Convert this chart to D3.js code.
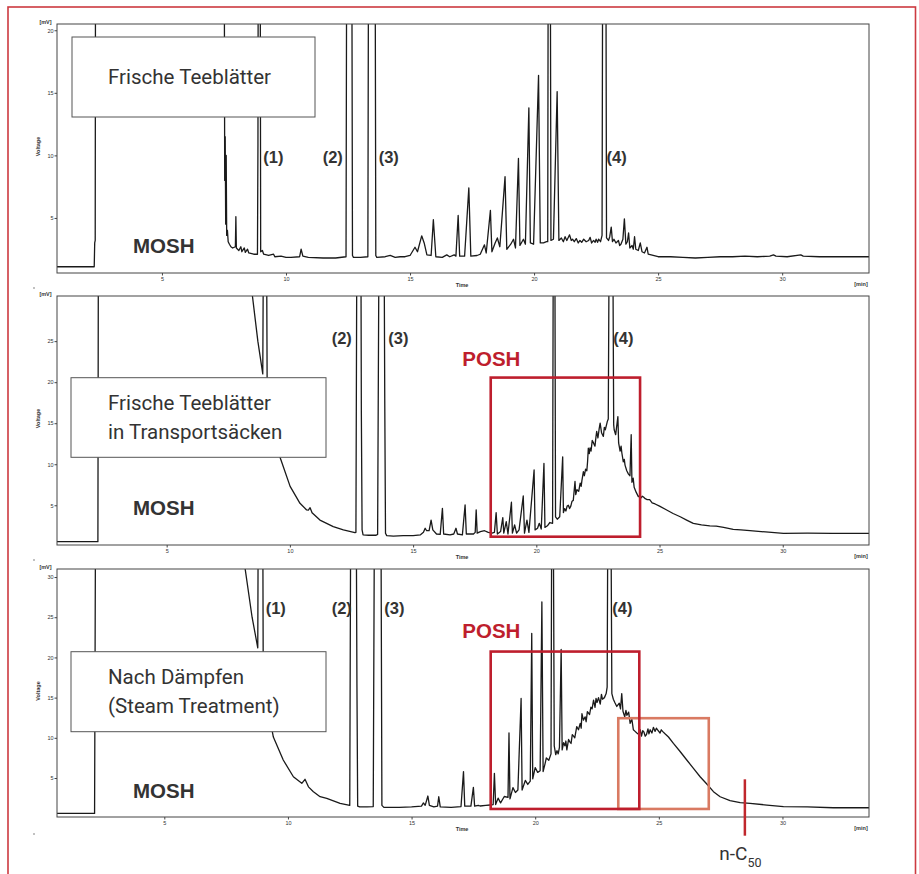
<!DOCTYPE html>
<html>
<head>
<meta charset="utf-8">
<script src="https://cdn.jsdelivr.net/npm/d3@7"></script>
<style>
  body { margin: 0; background: #fff; }
  svg { display: block; }
</style>
</head>
<body>
<svg id="chart" width="919" height="874"></svg>
<script>
// GC-FID traces, [retention time (min), signal (mV)]; values above the
// scale are off-scale peaks and get clipped at the top of the plot.
const traceFresh = [
  [0.77,1.1],[2.27,1.1],[2.29,3.0],[2.31,3.2],[2.33,40],
  [7.50,40],[7.53,8.0],[7.55,11.5],[7.57,4.5],[7.59,10.0],[7.61,3.6],[7.64,4.0],[7.67,3.1],[7.72,2.9],
  [7.78,2.7],[7.85,2.6],[7.96,2.7],[7.98,5.1],[8.00,2.6],[8.10,2.4],[8.18,2.7],[8.22,2.3],[8.32,2.6],
  [8.36,2.25],[8.45,2.5],[8.50,2.2],[8.70,2.1],
  [8.85,2.1],[8.87,10.9],[8.89,40],[8.95,40],[8.98,2.3],
  [9.05,2.4],[9.10,2.1],[9.30,2.0],[9.50,2.1],[9.55,1.9],[9.80,1.95],[10.0,1.85],[10.2,1.85],[10.55,1.9],
  [10.61,2.5],[10.68,1.95],[10.9,1.85],[11.5,1.8],[12.0,1.8],
  [12.42,1.9],[12.46,40],[12.64,40],[12.68,2.0],[12.72,1.85],[13.0,1.85],
  [13.30,1.9],[13.34,40],[13.58,40],[13.62,2.0],[13.66,1.85],
  [14.0,1.9],[14.2,2.0],[14.4,1.85],[14.6,1.9],[14.8,1.9],[15.0,2.0],[15.2,2.66],[15.3,2.3],[15.47,3.57],
  [15.57,3.0],[15.68,2.05],[15.85,2.0],[15.94,4.86],[16.04,1.9],[16.3,1.85],[16.48,2.05],[16.6,1.9],
  [16.78,2.05],[16.85,1.95],[16.94,5.2],[17.0,1.95],[17.2,1.95],[17.37,7.4],[17.45,1.95],[17.7,2.0],
  [17.83,2.1],[18.0,2.85],[18.07,2.2],[18.24,5.6],[18.3,2.3],[18.43,3.0],[18.52,3.4],[18.62,2.7],
  [18.83,8.3],[18.9,2.5],[19.06,2.9],[19.17,3.3],[19.25,2.6],[19.37,9.75],[19.43,2.8],[19.57,3.3],
  [19.65,2.9],[19.79,13.8],[19.85,3.0],[19.98,2.9],[20.18,16.4],[20.25,3.0],[20.38,3.0],[20.5,3.1],
  [20.55,3.1],[20.58,40],[20.64,40],[20.68,3.2],[20.78,3.3],[20.93,15.1],[21.0,3.2],[21.1,3.4],
  [21.18,3.1],[21.25,3.5],[21.32,3.2],[21.43,3.65],[21.5,3.2],[21.55,3.3],[21.62,3.1],[21.7,3.35],
  [21.78,3.0],[21.85,3.2],[21.92,3.05],[22.0,3.3],[22.1,3.1],[22.2,3.2],[22.26,3.45],[22.32,3.0],
  [22.4,3.2],[22.46,3.05],[22.5,3.3],[22.56,3.05],[22.6,3.3],[22.68,3.1],[22.74,3.6],[22.78,40],
  [22.88,40],[22.92,3.4],[23.0,3.2],[23.05,3.5],
  [23.11,4.27],[23.16,3.1],[23.22,3.3],[23.3,3.0],[23.4,3.2],[23.45,2.8],[23.5,2.9],[23.58,3.3],
  [23.64,4.93],[23.7,2.9],[23.76,3.1],[23.81,3.8],[23.86,2.6],[23.95,2.8],[24.0,2.5],[24.05,3.5],
  [24.1,2.5],[24.2,2.4],[24.28,3.0],[24.35,2.3],[24.45,2.2],[24.55,2.66],[24.6,2.1],
  [24.8,2.0],[25.0,1.9],[25.5,1.9],[26.0,1.85],[26.5,1.8],[27.0,1.85],[27.5,1.9],[28.0,1.9],
  [28.5,1.95],[29.0,1.9],[29.5,1.95],[29.65,2.05],[29.75,1.95],[30.2,1.9],[30.75,2.05],[30.85,1.95],
  [31.5,1.9],[32.5,1.9],[33.5,1.9]
];

const traceSacks = [
  [0.55,0.56],[2.21,0.56],[2.23,40],[8.30,40],[8.48,30.5],[8.70,25.0],[8.90,21.0],
  [8.93,40],[9.05,40],[9.08,18.0],[9.30,14.5],[9.60,10.85],[10.01,7.3],[10.41,5.24],[10.68,4.43],
  [10.75,4.4],[10.82,4.7],[10.9,4.1],[11.22,3.2],[11.76,2.4],[12.17,2.0],[12.64,1.66],
  [12.68,1.7],[12.72,40],[12.88,40],[12.90,16.4],[12.93,2.0],[12.97,1.4],[13.2,1.35],[13.5,1.35],
  [13.56,1.45],[13.62,40],[13.82,40],[13.85,17.8],[13.88,1.6],[13.93,1.3],
  [14.2,1.25],[14.6,1.3],[15.0,1.3],[15.3,1.4],[15.42,1.7],[15.49,2.2],[15.55,1.9],[15.65,1.9],
  [15.73,3.2],[15.8,2.0],[15.95,1.5],[16.1,1.45],[16.19,4.63],[16.24,1.5],[16.5,1.4],[16.65,1.5],
  [16.74,2.2],[16.8,1.5],[17.0,1.4],[17.11,5.04],[17.16,1.5],[17.3,1.5],[17.45,1.5],[17.52,1.7],
  [17.56,4.45],[17.6,1.6],[17.73,1.78],[17.9,1.9],[18.05,1.7],[18.2,1.6],[18.3,1.7],[18.37,4.1],
  [18.42,1.5],[18.55,1.8],[18.64,3.5],[18.68,1.6],[18.78,3.0],[18.85,1.5],[18.99,5.37],[19.03,1.6],
  [19.12,2.6],[19.2,1.6],[19.3,2.0],[19.47,6.13],[19.52,1.6],[19.62,3.2],[19.7,1.7],[19.91,9.3],
  [19.95,2.0],[20.05,2.2],[20.12,2.8],[20.2,2.1],[20.31,10.1],[20.35,2.3],[20.45,2.5],[20.55,2.9],
  [20.66,2.8],[20.69,40],[20.75,40],[20.78,3.6],[20.85,3.3],[20.95,3.6],[21.07,10.9],[21.1,4.1],
  [21.15,4.6],[21.2,4.3],[21.25,4.9],[21.3,5.0],[21.35,4.6],[21.4,4.9],[21.45,5.5],[21.5,5.6],
  [21.57,7.9],[21.6,6.3],[21.65,6.9],[21.72,6.7],[21.78,7.7],[21.82,7.3],[21.85,8.0],[21.91,9.1],
  [21.95,8.6],[22.0,9.4],[22.05,9.2],[22.08,10.3],[22.11,11.95],[22.15,11.3],[22.18,12.0],
  [22.22,11.6],[22.27,12.9],[22.32,12.6],[22.38,12.2],[22.42,13.3],[22.45,14.0],[22.5,13.2],
  [22.55,14.3],[22.59,15.0],[22.65,13.8],[22.72,13.4],[22.76,14.5],[22.8,14.2],[22.88,15.2],
  [22.92,15.5],[22.96,40],[23.1,40],[23.14,14.8],[23.16,14.2],
  [23.22,13.6],[23.31,15.8],[23.34,12.6],[23.4,11.6],[23.44,12.2],[23.47,11.4],[23.53,10.3],
  [23.57,10.6],[23.6,9.9],[23.67,9.2],[23.74,8.8],[23.8,8.6],[23.85,13.6],[23.88,7.8],[23.93,8.3],
  [23.97,7.2],[24.05,6.6],[24.14,6.05],[24.2,6.2],[24.25,5.9],[24.3,6.1],[24.35,6.0],[24.42,5.8],
  [24.5,5.7],[24.6,5.7],[24.7,5.3],[24.82,5.16],[25.0,4.9],
  [25.29,4.43],[25.55,4.0],[25.84,3.6],[26.1,3.2],[26.37,2.8],[26.7,2.6],[27.04,2.48],[27.3,2.45],
  [27.6,2.3],[27.99,2.07],[28.3,2.0],[28.67,1.9],[29.3,1.75],[30.03,1.58],[31.0,1.6],[32.0,1.58],
  [33.5,1.58]
];

const traceSteamed = [
  [0.66,0.6],[2.18,0.6],[2.22,40],[8.10,40],[8.27,31.0],[8.55,25.0],[8.78,21.2],
  [8.80,40],[8.98,40],[9.00,18.5],[9.20,13.5],[9.41,10.1],[9.81,7.24],[10.22,5.16],[10.56,4.34],
  [10.69,4.84],[10.83,3.9],[11.03,3.3],[11.3,2.67],[11.57,2.47],[12.11,1.85],[12.5,1.6],
  [12.54,40],[12.76,40],[12.79,16.8],[12.82,1.5],[12.9,1.4],[13.2,1.4],[13.45,1.45],
  [13.50,40],[13.76,40],[13.80,1.6],[13.88,1.35],[14.5,1.35],[15.0,1.4],[15.4,1.5],[15.48,1.9],
  [15.55,1.6],[15.66,2.76],[15.72,1.6],[15.9,1.4],[16.05,1.5],[16.1,2.67],[16.16,1.4],[16.6,1.35],
  [17.0,1.45],[17.1,5.8],[17.15,1.5],[17.4,1.5],[17.5,3.84],[17.55,1.5],[17.7,1.6],[17.77,1.52],
  [18.0,1.6],[18.18,1.64],[18.3,1.7],[18.35,5.58],[18.4,1.7],[18.5,2.5],[18.6,1.9],[18.75,2.7],
  [18.9,2.6],[18.94,10.6],[18.98,2.4],[19.1,3.8],[19.2,3.2],[19.3,3.5],[19.43,14.9],[19.47,3.5],
  [19.6,4.7],[19.7,4.2],[19.8,4.6],[19.86,23.0],[19.9,4.9],[20.0,6.3],[20.1,5.7],[20.2,5.9],
  [20.27,26.9],[20.32,5.8],[20.4,6.8],[20.45,7.5],[20.55,7.2],[20.64,8.0],[20.67,40],[20.73,40],
  [20.77,9.0],[20.83,7.9],[20.88,8.4],[20.93,8.0],[20.98,8.8],[21.05,21.0],[21.09,8.5],[21.15,9.4],
  [21.2,9.0],[21.24,9.6],[21.28,8.5],[21.35,9.8],[21.4,9.5],[21.45,9.3],[21.5,10.4],[21.55,10.2],
  [21.6,10.0],[21.68,11.4],[21.75,11.0],[21.82,11.8],[21.86,11.2],[21.89,13.0],[21.95,12.2],
  [22.02,12.6],[22.06,12.0],[22.11,13.25],[22.2,12.9],[22.25,13.8],[22.3,13.6],[22.36,14.7],
  [22.42,13.8],[22.46,14.9],[22.5,14.4],[22.56,15.0],[22.63,14.2],[22.68,15.4],[22.72,14.8],
  [22.8,15.0],[22.87,15.5],[22.91,16.3],[22.94,40],[23.06,40],[23.1,15.5],
  [23.16,14.8],[23.22,14.4],[23.3,13.9],[23.4,14.3],[23.45,13.6],[23.5,15.5],[23.55,13.3],
  [23.62,12.6],[23.67,13.4],[23.71,12.8],[23.78,13.2],[23.84,11.8],[23.91,12.3],[23.97,11.0],
  [24.04,10.8],[24.11,10.6],[24.2,10.4],[24.25,11.0],[24.3,10.2],[24.35,10.9],[24.4,10.7],
  [24.45,10.2],[24.5,10.4],[24.56,11.1],[24.6,10.5],[24.65,11.0],[24.72,10.6],[24.78,11.3],
  [24.85,10.8],[24.9,11.2],[24.95,11.0],[25.05,10.6],[25.1,11.0],[25.15,10.8],
  [25.25,10.5],[25.39,10.1],[25.59,9.3],[25.86,8.3],[26.13,7.24],[26.4,6.2],[26.67,5.16],
  [26.94,4.25],[27.21,3.3],[27.48,2.67],[27.88,2.18],[28.29,1.93],[28.69,1.85],[29.37,1.64],
  [30.04,1.43],[31.0,1.4],[32.06,1.3],[33.5,1.3]
];

// Axis ticks
const timeTicks = [5, 10, 15, 20, 25, 30];
const voltTicksFresh = [5, 10, 15, 20];
const voltTicksSacks = [5, 10, 15, 20, 25];
const voltTicksSteamed = [5, 10, 15, 20, 25, 30];

// Sample descriptions
const sampleFresh = ["Frische Teeblätter"];
const sampleSacks = ["Frische Teeblätter", "in Transportsäcken"];
const sampleSteamed = ["Nach Dämpfen", "(Steam Treatment)"];

// Peak markers (internal standards) per run
const peaksFresh = ["(1)", "(2)", "(3)", "(4)"];
const peaksSacks = ["(2)", "(3)", "(4)"];
const peaksSteamed = ["(1)", "(2)", "(3)", "(4)"];

// Highlighted windows [t0, t1, v0, v1]
const poshSacks = [18.15, 24.21, 1.17, 20.56];
const poshSteamed = [18.2, 24.21, 1.15, 20.73];
const humpSteamed = [23.36, 27.02, 1.15, 12.44];
const nC50Time = 28.48;

const svg = d3.select("#chart");
const DARK = "#333";
const RED = "#be1e2d";

// outer border
svg.append("rect")
  .attr("x", 8).attr("y", 7).attr("width", 907.5).attr("height", 900)
  .attr("fill", "none").attr("stroke", "#cc3a40").attr("stroke-width", 1.6);

const panels = [
  { trace: traceFresh, xDom: [0.77, 33.5], yDom: [0.6, 20.5], top: 24, bottom: 273,
    yTicks: voltTicksFresh, lines: sampleFresh,
    box: { x: 72, y: 37, w: 243, h: 80 }, textY: [84],
    mosh: 253, peaks: peaksFresh, peakX: [263.3, 322.7, 378.7, 606.5], peakY: 163 },
  { trace: traceSacks, xDom: [0.55, 33.5], yDom: [0.16, 30.5], top: 296, bottom: 545,
    yTicks: voltTicksSacks, lines: sampleSacks,
    box: { x: 71, y: 377.7, w: 255, h: 79.6 }, textY: [410, 439.3],
    mosh: 515, peaks: peaksSacks, peakX: [331.7, 388.3, 613.3], peakY: 343.5,
    posh: poshSacks, poshY: 366 },
  { trace: traceSteamed, xDom: [0.66, 33.5], yDom: [0.15, 31.0], top: 569, bottom: 817,
    yTicks: voltTicksSteamed, lines: sampleSteamed,
    box: { x: 71, y: 651.7, w: 255, h: 80 }, textY: [684, 713.3],
    mosh: 798.3, peaks: peaksSteamed, peakX: [265.7, 331.7, 384.3, 612.3], peakY: 613.5,
    posh: poshSteamed, poshY: 638.3, hump: humpSteamed, marker: nC50Time }
];

const LEFT = 57, RIGHT = 869;

panels.forEach((p, i) => {
  const x = d3.scaleLinear().domain(p.xDom).range([LEFT, RIGHT]);
  const y = d3.scaleLinear().domain(p.yDom).range([p.bottom, p.top]);
  const g = svg.append("g");

  const clipId = "clip" + i;
  svg.append("clipPath").attr("id", clipId)
    .append("rect").attr("x", LEFT).attr("y", p.top)
    .attr("width", RIGHT - LEFT).attr("height", p.bottom - p.top);

  // chromatogram trace
  const line = d3.line().x(d => x(d[0])).y(d => y(d[1]));
  g.append("path").datum(p.trace)
    .attr("clip-path", `url(#${clipId})`)
    .attr("d", line)
    .attr("fill", "none").attr("stroke", "#1a1a1a")
    .attr("stroke-width", 1.3).attr("stroke-linejoin", "round");

  // plot frame
  g.append("rect").attr("x", LEFT).attr("y", p.top)
    .attr("width", RIGHT - LEFT).attr("height", p.bottom - p.top)
    .attr("fill", "none").attr("stroke", "#444").attr("stroke-width", 1);

  // axes
  const xAxis = d3.axisBottom(x).tickValues(timeTicks).tickSize(2.5).tickPadding(1.5)
    .tickFormat(d3.format("d"));
  const gx = g.append("g").attr("transform", `translate(0,${p.bottom})`).call(xAxis);
  const yAxis = d3.axisLeft(y).tickValues(p.yTicks).tickSize(2.5).tickPadding(1)
    .tickFormat(d3.format("d"));
  const gy = g.append("g").attr("transform", `translate(${LEFT},0)`).call(yAxis);
  [gx, gy].forEach(a => {
    a.select(".domain").remove();
    a.selectAll("line").attr("stroke", "#444");
    a.selectAll("text").attr("font-family", "Liberation Sans, Arial, sans-serif")
      .attr("font-size", 5.5).attr("fill", DARK);
  });

  const small = (tx, ty, s, anchor, extra) => {
    const t = g.append("text").attr("x", tx).attr("y", ty).text(s)
      .attr("font-family", "Liberation Sans, Arial, sans-serif")
      .attr("font-size", 5.5).attr("font-weight", "bold")
      .attr("fill", DARK).attr("text-anchor", anchor || "start");
    if (extra) extra(t);
    return t;
  };
  small(462, p.bottom + 14, "Time", "middle");
  small(861, p.bottom + 12.5, "[min]", "middle");
  small(45.5, p.top, "[mV]", "middle");
  small(0, 0, "Voltage", "middle", t => t.attr("transform",
    `translate(40,${(p.top + p.bottom) / 2 - 2}) rotate(-90)`));
  g.append("circle").attr("cx", 34).attr("cy", p.bottom + (i === 2 ? 17 : 15)).attr("r", 0.7).attr("fill", "#555");

  // sample description box
  g.append("rect").attr("x", p.box.x).attr("y", p.box.y)
    .attr("width", p.box.w).attr("height", p.box.h)
    .attr("fill", "#fff").attr("stroke", "#555").attr("stroke-width", 1);
  p.lines.forEach((s, k) => {
    g.append("text").attr("x", 108).attr("y", p.textY[k]).text(s)
      .attr("font-family", "Roboto, 'Noto Sans', sans-serif")
      .attr("font-size", 20.5).attr("fill", DARK);
  });

  // fraction label
  g.append("text").attr("x", 133).attr("y", p.mosh).text("MOSH")
    .attr("font-family", "Liberation Sans, Arial, sans-serif")
    .attr("font-size", 20.5).attr("font-weight", "bold").attr("fill", DARK);

  // peak labels
  p.peaks.forEach((s, k) => {
    g.append("text").attr("x", p.peakX[k]).attr("y", p.peakY).text(s)
      .attr("font-family", "Liberation Sans, Arial, sans-serif")
      .attr("font-size", 16.5).attr("font-weight", "bold").attr("fill", DARK);
  });

  const windowRect = (w, color) => {
    g.append("rect")
      .attr("x", x(w[0])).attr("y", y(w[3]))
      .attr("width", x(w[1]) - x(w[0])).attr("height", y(w[2]) - y(w[3]))
      .attr("fill", "none").attr("stroke", color).attr("stroke-width", 2.6);
  };
  if (p.hump) windowRect(p.hump, "#d97a62");
  if (p.posh) {
    windowRect(p.posh, RED);
    g.append("text").attr("x", 462.3).attr("y", p.poshY).text("POSH")
      .attr("font-family", "Liberation Sans, Arial, sans-serif")
      .attr("font-size", 20.5).attr("font-weight", "bold").attr("fill", RED);
  }

  if (p.marker !== undefined) {
    const mx = x(p.marker);
    g.append("line").attr("x1", mx).attr("x2", mx)
      .attr("y1", p.bottom - 37.7).attr("y2", p.bottom + 18.7)
      .attr("stroke", "#c0272d").attr("stroke-width", 2.5);
    const t = g.append("text").attr("x", 719.3).attr("y", 860)
      .attr("font-family", "Roboto, 'Noto Sans', sans-serif")
      .attr("font-size", 19).attr("fill", DARK);
    t.append("tspan").text("n-C");
    t.append("tspan").text("50").attr("font-size", 12.5).attr("dy", 6.5);
  }
});
</script>
</body>
</html>
